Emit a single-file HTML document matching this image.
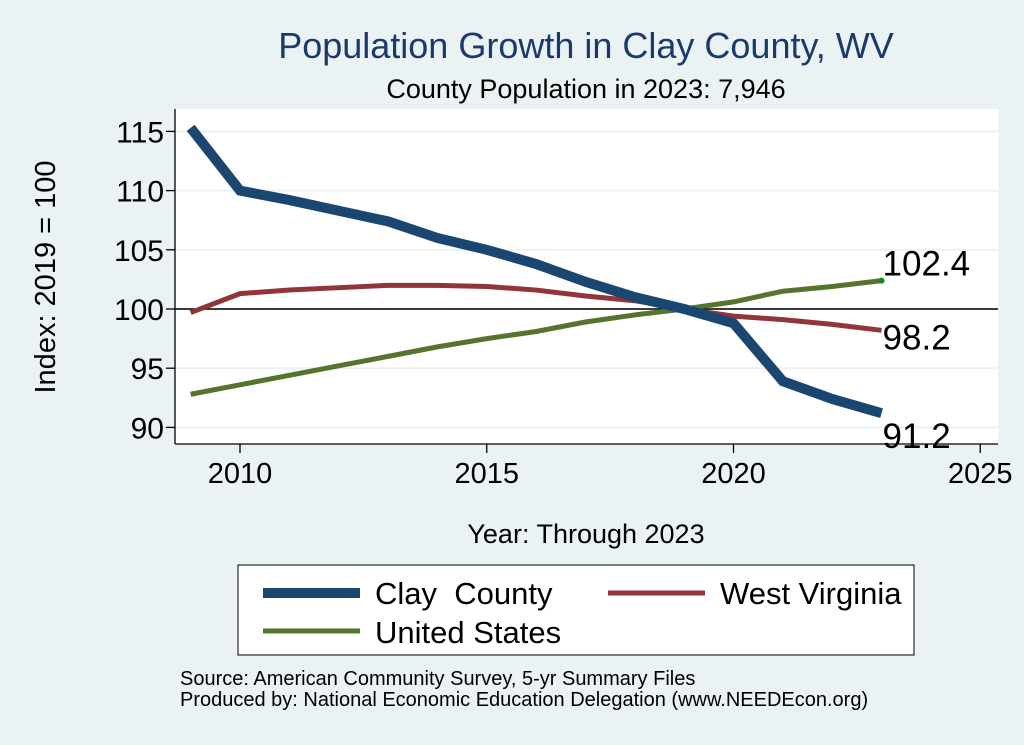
<!DOCTYPE html>
<html><head><meta charset="utf-8"><style>
body{margin:0;background:#eaf2f3;}
svg{display:block;font-family:"Liberation Sans",sans-serif;}
</style></head><body>
<svg width="1024" height="745">
<rect x="0" y="0" width="1024" height="745" fill="#eaf2f3"/>
<rect x="175" y="109" width="823" height="335" fill="#fff"/>
<text x="586" y="58" font-size="36" fill="#1a3a6b" text-anchor="middle">Population Growth in Clay County, WV</text>
<text x="586" y="98" font-size="27" text-anchor="middle">County Population in 2023: 7,946</text>
<g id="grid"></g>
<g id="axes"></g>
<g id="series"></g>
<text x="586" y="543" font-size="27" text-anchor="middle">Year: Through 2023</text>
<text transform="translate(55,277) rotate(-90)" font-size="29" text-anchor="middle">Index: 2019 = 100</text>
<g>
<rect x="238" y="565" width="676" height="90" fill="#fff" stroke="#000" stroke-width="1"/>
<line x1="263" y1="593" x2="360" y2="593" stroke="#1a476f" stroke-width="10"/>
<text x="375" y="604" font-size="31" xml:space="preserve">Clay  County</text>
<line x1="608" y1="593" x2="705" y2="593" stroke="#90353b" stroke-width="5"/>
<text x="720" y="604" font-size="31">West Virginia</text>
<line x1="263" y1="631" x2="360" y2="631" stroke="#55752f" stroke-width="5"/>
<text x="375" y="643" font-size="31">United States</text>
</g>
<text x="180" y="685" font-size="20">Source: American Community Survey, 5-yr Summary Files</text>
<text x="180" y="706" font-size="20">Produced by: National Economic Education Delegation (www.NEEDEcon.org)</text>
</svg>
<script>
const years=[2009,2010,2011,2012,2013,2014,2015,2016,2017,2018,2019,2020,2021,2022,2023];
const clay=[115.3,110,109.2,108.3,107.4,106,105,103.8,102.3,101,100,98.8,93.9,92.4,91.2];
const wv=[99.7,101.3,101.6,101.8,102,102,101.9,101.6,101.1,100.7,100,99.4,99.1,98.7,98.2];
const us=[92.8,93.6,94.4,95.2,96,96.8,97.5,98.1,98.9,99.5,100,100.6,101.5,101.9,102.4];
const xTicks=[2010,2015,2020,2025];
const yTicks=[90,95,100,105,110,115];
const NS='http://www.w3.org/2000/svg';
const X=v=>240+(v-2010)*49.35;
const Y=v=>309-(v-100)*11.84;
function mk(t,a,p){const e=document.createElementNS(NS,t);for(const k in a)e.setAttribute(k,a[k]);p.appendChild(e);return e;}
const grid=document.getElementById('grid'),axes=document.getElementById('axes'),ser=document.getElementById('series');
yTicks.forEach(v=>{
 const g=mk('line',{x1:175,x2:998,y1:Y(v),y2:Y(v),stroke:'#eaf2f3','stroke-width':2},grid);
 
 
 const t=mk('line',{x1:166,x2:175,y1:Y(v),y2:Y(v),stroke:'#000','stroke-width':1.3},axes);
 
 
 const l=mk('text',{x:164,y:Y(v)+11,'font-size':30,'text-anchor':'end'},axes);l.textContent=v;
 
 
});
xTicks.forEach(v=>{
 const t=mk('line',{x1:X(v),x2:X(v),y1:444,y2:453,stroke:'#000','stroke-width':1.3},axes);
 
 
 const l=mk('text',{x:X(v),y:483,'font-size':29,'text-anchor':'middle'},axes);l.textContent=v;
 
 
});
const ya=mk('line',{x1:175,x2:175,y1:109,y2:444,stroke:'#000','stroke-width':1.3},axes);


const xa=mk('line',{x1:175,x2:998,y1:444,y2:444,stroke:'#000','stroke-width':1.3},axes);


const ref=mk('line',{x1:175,x2:998,y1:Y(100),y2:Y(100),stroke:'#000','stroke-width':1.6},axes);


function line(vals,col,w,name){
 const p=mk('polyline',{points:years.map((y,i)=>X(y)+','+Y(vals[i])).join(' '),fill:'none',stroke:col,'stroke-width':w,'stroke-linejoin':'miter'},ser);
 
 
}
line(us,'#55752f',5,'line-united-states');
line(wv,'#90353b',5,'line-west-virginia');
line(clay,'#1a476f',10,'line-clay-county');
const d=mk('circle',{cx:X(2023),cy:Y(us[us.length-1]),r:3,fill:'#1a8a1a'},ser);


function lab(v,dy,name){const t=mk('text',{x:X(2023)+1,y:Y(v)+dy,'font-size':35},ser);t.textContent=v.toFixed(1);
 
 }
lab(us[us.length-1],-5,'label-us-end');
lab(wv[wv.length-1],19,'label-wv-end');
lab(clay[clay.length-1],35,'label-clay-end');
</script>
</body></html>
